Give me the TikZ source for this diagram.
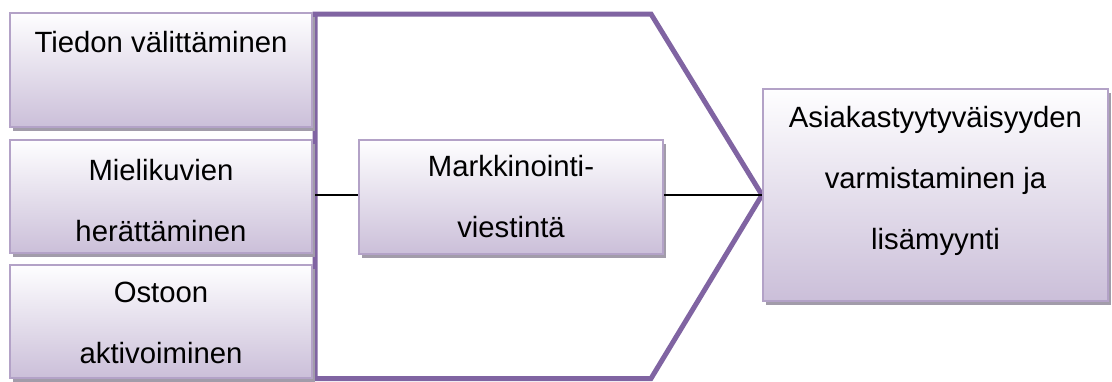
\documentclass[tikz,border=0pt]{standalone}
\usepackage{fontspec}
\setmainfont{Liberation Sans}
\usetikzlibrary{shadows}
\definecolor{boxline}{HTML}{B3A2C7}
\definecolor{boxlow}{HTML}{CBBFD9}
\definecolor{boxtop}{HTML}{FEFEFF}
\definecolor{shadowgrey}{HTML}{A29CAA}
\definecolor{chevron}{HTML}{8064A2}
\tikzset{
  panel/.style={draw=boxline, line width=2pt, top color=boxtop, bottom color=boxlow,
    inner sep=0pt, rectangle,
    drop shadow={shadow xshift=3pt, shadow yshift=-4pt, fill=shadowgrey, opacity=1}},
  caption/.style={inner sep=0pt, anchor=base, font=\fontsize{29.3pt}{61pt}\selectfont},
  frame/.style={draw=chevron, line width=5pt, line join=miter},
  link/.style={draw=black, line width=1.3pt}
}
\begin{document}
\begin{tikzpicture}[x=1pt,y=-1pt]
  \useasboundingbox (0,0) rectangle (1112,381);

  % chevron outline enclosing the left column and the middle box
  \coordinate (inlet) at (315,195);
  \coordinate (tip) at (762,195);
  \draw[frame] (315,14) -- (651,14) -- (tip) -- (651,378.5) -- (315,378.5) -- cycle;

  % left column of aims
  \node[panel, minimum width=302pt, minimum height=114pt] (b1) at (161,70) {};
  \node[panel, minimum width=302pt, minimum height=113pt] (b2) at (161,196.5) {};
  \node[panel, minimum width=302pt, minimum height=113pt] (b3) at (161,321.5) {};

  % central box and result box
  \node[panel, minimum width=304pt, minimum height=114pt] (mid) at (511,197) {};
  \node[panel, minimum width=345pt, minimum height=212pt] (res) at (935.5,195) {};

  % connectors
  \draw[link] (inlet) -- (inlet -| mid.west);
  \draw[link] (mid.east |- tip) -- (tip);

  % texts, hung from the top edge of each box
  \node[caption] (t1) at ([yshift=-40pt]b1.north) {\parbox[t]{295pt}{\centering Tiedon välittäminen}};
  \node[caption] (t2) at ([yshift=-41pt]b2.north) {\parbox[t]{295pt}{\centering Mielikuvien\\herättäminen}};
  \node[caption] (t3) at ([yshift=-38pt]b3.north) {\parbox[t]{295pt}{\centering Ostoon\\aktivoiminen}};
  \node[caption] (tm) at ([yshift=-37pt]mid.north) {\parbox[t]{295pt}{\centering Markkinointi-\\viestintä}};
  \node[caption] (tr) at ([yshift=-39pt]res.north) {\parbox[t]{340pt}{\centering Asiakastyytyväisyyden\\varmistaminen ja\\lisämyynti}};
\end{tikzpicture}
\end{document}
